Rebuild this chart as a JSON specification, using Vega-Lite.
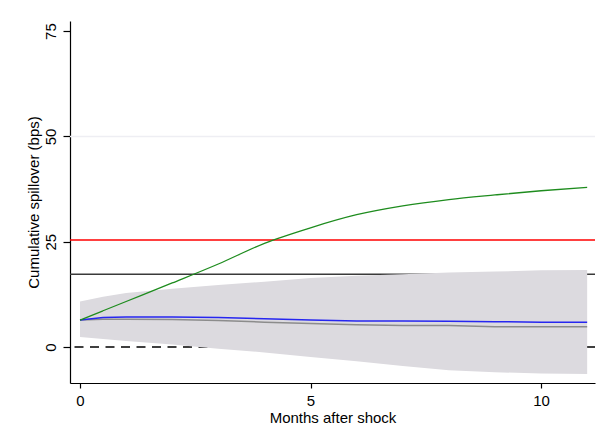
{
  "$schema": "https://vega.github.io/schema/vega-lite/v6.json",
  "width": 525,
  "height": 362,
  "autosize": "none",
  "padding": {"left": 70, "top": 21, "right": 2, "bottom": 54},
  "background": "white",
  "config": {
    "view": {"stroke": null},
    "font": "Liberation Sans",
    "axis": {"grid": false, "domainColor": "#000000", "tickColor": "#000000", "labelColor": "#000000", "titleColor": "#000000", "labelFont": "Liberation Sans", "titleFont": "Liberation Sans", "labelFontSize": 15, "titleFontSize": 15, "titleFontWeight": "normal", "domainWidth": 1.2, "tickWidth": 1.2}
  },
  "datasets": {
    "irf": [
      {"m": 0, "green": 6.4, "blue": 6.4, "gray": 6.4, "lo": 2.4, "hi": 10.8},
      {"m": 0.5, "green": 8.6, "blue": 7.0, "gray": 6.6, "lo": 1.9, "hi": 11.9},
      {"m": 1, "green": 10.8, "blue": 7.1, "gray": 6.6, "lo": 1.4, "hi": 12.8},
      {"m": 2, "green": 15.2, "blue": 7.1, "gray": 6.5, "lo": 0.6, "hi": 13.8},
      {"m": 3, "green": 19.7, "blue": 7.0, "gray": 6.3, "lo": -0.4, "hi": 14.7},
      {"m": 4, "green": 24.6, "blue": 6.7, "gray": 5.9, "lo": -1.3, "hi": 15.5},
      {"m": 5, "green": 28.3, "blue": 6.4, "gray": 5.6, "lo": -2.4, "hi": 16.4},
      {"m": 6, "green": 31.4, "blue": 6.2, "gray": 5.3, "lo": -3.4, "hi": 16.9},
      {"m": 7, "green": 33.5, "blue": 6.2, "gray": 5.1, "lo": -4.5, "hi": 17.3},
      {"m": 8, "green": 35.0, "blue": 6.1, "gray": 5.1, "lo": -5.5, "hi": 17.7},
      {"m": 9, "green": 36.1, "blue": 6.0, "gray": 4.8, "lo": -6.0, "hi": 17.9},
      {"m": 10, "green": 37.1, "blue": 5.9, "gray": 4.8, "lo": -6.3, "hi": 18.2},
      {"m": 11, "green": 37.9, "blue": 5.9, "gray": 4.8, "lo": -6.4, "hi": 18.3}
    ],
    "refs": [
      {"kind": "grid", "v": 50},
      {"kind": "black", "v": 17.3},
      {"kind": "zero", "v": 0},
      {"kind": "red", "v": 25.4}
    ]
  },
  "layer": [
    {
      "data": {"name": "refs"},
      "transform": [{"filter": "datum.kind === 'grid'"}],
      "mark": {"type": "rule", "color": "#eeeef3", "strokeWidth": 1.5},
      "encoding": {"y": {"field": "v", "type": "quantitative", "scale": {"domain": [-8.55, 77.4], "nice": false, "zero": false}}}
    },
    {
      "data": {"name": "refs"},
      "transform": [{"filter": "datum.kind === 'black'"}],
      "mark": {"type": "rule", "color": "#3a3a3a", "strokeWidth": 1.5},
      "encoding": {"y": {"field": "v", "type": "quantitative"}}
    },
    {
      "data": {"name": "refs"},
      "transform": [{"filter": "datum.kind === 'zero'"}],
      "mark": {"type": "rule", "color": "#000000", "strokeWidth": 1.4, "strokeDash": [9, 6.5]},
      "encoding": {"y": {"field": "v", "type": "quantitative"}}
    },
    {
      "data": {"name": "irf"},
      "mark": {"type": "area", "color": "#dcdadf", "opacity": 1},
      "encoding": {
        "x": {"field": "m", "type": "quantitative", "scale": {"domain": [-0.217, 11.17], "nice": false, "zero": false},
          "axis": {"values": [0, 5, 10], "title": "Months after shock", "tickSize": 5, "labelPadding": 5, "titlePadding": 2, "labelFlush": false}},
        "y": {"field": "lo", "type": "quantitative",
          "axis": {"values": [0, 25, 50, 75], "title": "Cumulative spillover (bps)", "tickSize": 7, "labelAngle": -90, "labelAlign": "center", "labelBaseline": "bottom", "labelPadding": 5, "titlePadding": 2}},
        "y2": {"field": "hi"}
      }
    },
    {
      "data": {"name": "refs"},
      "transform": [{"filter": "datum.kind === 'red'"}],
      "mark": {"type": "rule", "color": "#ff0000", "strokeWidth": 1.5},
      "encoding": {"y": {"field": "v", "type": "quantitative"}}
    },
    {
      "data": {"name": "irf"},
      "mark": {"type": "line", "color": "#8c8c8c", "strokeWidth": 1.5},
      "encoding": {"x": {"field": "m", "type": "quantitative"}, "y": {"field": "gray", "type": "quantitative"}}
    },
    {
      "data": {"name": "irf"},
      "mark": {"type": "line", "color": "#2626f0", "strokeWidth": 1.5},
      "encoding": {"x": {"field": "m", "type": "quantitative"}, "y": {"field": "blue", "type": "quantitative"}}
    },
    {
      "data": {"name": "irf"},
      "mark": {"type": "line", "color": "#1e8c1e", "strokeWidth": 1.3, "interpolate": "monotone"},
      "encoding": {"x": {"field": "m", "type": "quantitative"}, "y": {"field": "green", "type": "quantitative"}}
    }
  ]
}
